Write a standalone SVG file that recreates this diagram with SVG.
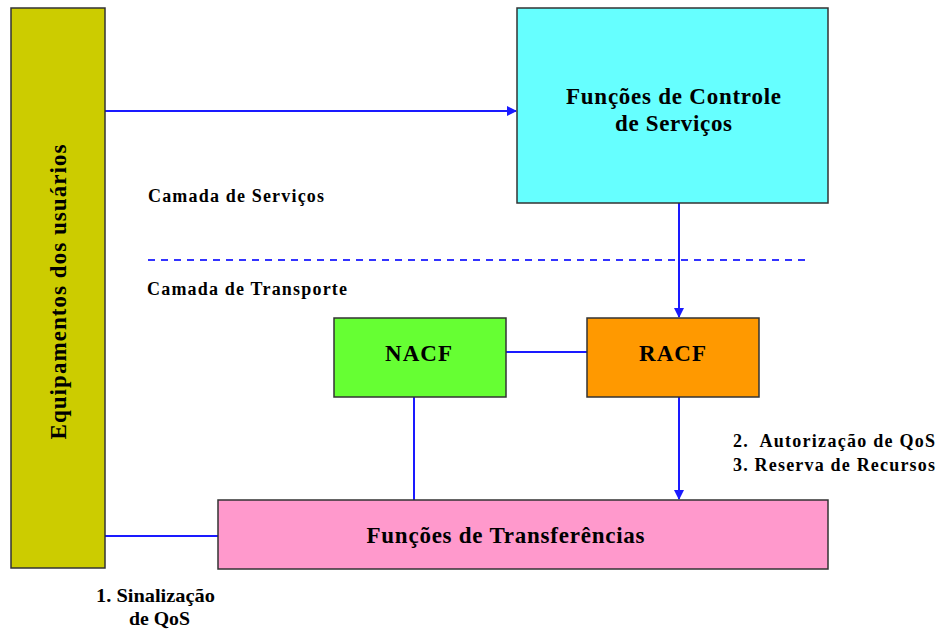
<svg xmlns="http://www.w3.org/2000/svg" width="936" height="630" viewBox="0 0 936 630">
<style>
.box{stroke:#333;stroke-width:1.5}
.t{font-family:"Liberation Serif","Times New Roman",serif;font-weight:bold;fill:#000}
.n{font-size:23px;text-anchor:middle}
.l{font-size:18px}
.c{stroke:#1a1aff;stroke-width:2;fill:none}
</style>
<defs>
<marker id="ah" markerWidth="10" markerHeight="10" refX="9" refY="5" orient="auto" markerUnits="userSpaceOnUse">
<path d="M0,0 L10,5 L0,10 z" fill="#1a1aff"/>
</marker>
</defs>
<rect width="936" height="630" fill="#fff"/>
<g id="connectors">
<line class="c" x1="105" y1="111" x2="516" y2="111" marker-end="url(#ah)"/>
<line class="c" x1="679" y1="203" x2="679" y2="317" marker-end="url(#ah)"/>
<line class="c" x1="506" y1="352" x2="587" y2="352"/>
<line class="c" x1="414" y1="397" x2="414" y2="500"/>
<line class="c" x1="679" y1="397" x2="679" y2="499" marker-end="url(#ah)"/>
<line class="c" x1="105" y1="536" x2="218" y2="536"/>
<line x1="148" y1="260" x2="806" y2="260" stroke="#3333ff" stroke-width="2" stroke-dasharray="7,6"/>
</g>
<g id="user-equipment">
<rect class="box" x="11" y="8" width="94" height="560" fill="#cccc00"/>
<text class="t" font-size="23" text-anchor="middle" textLength="295" lengthAdjust="spacing" transform="translate(66,292) rotate(-90)">Equipamentos dos usuários</text>
</g>
<g id="service-control">
<rect class="box" x="517" y="8" width="311" height="195" fill="#66ffff"/>
<text class="t n" x="673.5" y="104" textLength="215" lengthAdjust="spacing">Funções de Controle</text>
<text class="t n" x="673.5" y="131" textLength="117" lengthAdjust="spacing">de Serviços</text>
</g>
<g id="nacf">
<rect class="box" x="334" y="318" width="172" height="79" fill="#66ff33"/>
<text class="t n" x="418.5" y="361" textLength="67" lengthAdjust="spacing">NACF</text>
</g>
<g id="racf">
<rect class="box" x="587" y="318" width="172" height="79" fill="#ff9900"/>
<text class="t n" x="672.5" y="361" textLength="67" lengthAdjust="spacing">RACF</text>
</g>
<g id="transfer">
<rect class="box" x="218" y="500" width="610" height="69" fill="#ff99cc"/>
<text class="t n" x="505.5" y="543" textLength="278" lengthAdjust="spacing">Funções de Transferências</text>
</g>
<g id="labels">
<text class="t l" x="148" y="202" textLength="176" lengthAdjust="spacing">Camada de Serviços</text>
<text class="t l" x="147" y="295" textLength="200" lengthAdjust="spacing">Camada de Transporte</text>
<text class="t l" x="733" y="447" textLength="202" lengthAdjust="spacing" xml:space="preserve">2.  Autorização de QoS</text>
<text class="t l" x="733" y="471" textLength="202" lengthAdjust="spacing">3. Reserva de Recursos</text>
<text class="t" font-size="19" x="96" y="602" textLength="119" lengthAdjust="spacingAndGlyphs">1. Sinalização</text>
<text class="t" font-size="19" x="129" y="625" textLength="61" lengthAdjust="spacingAndGlyphs">de QoS</text>
</g>
</svg>
